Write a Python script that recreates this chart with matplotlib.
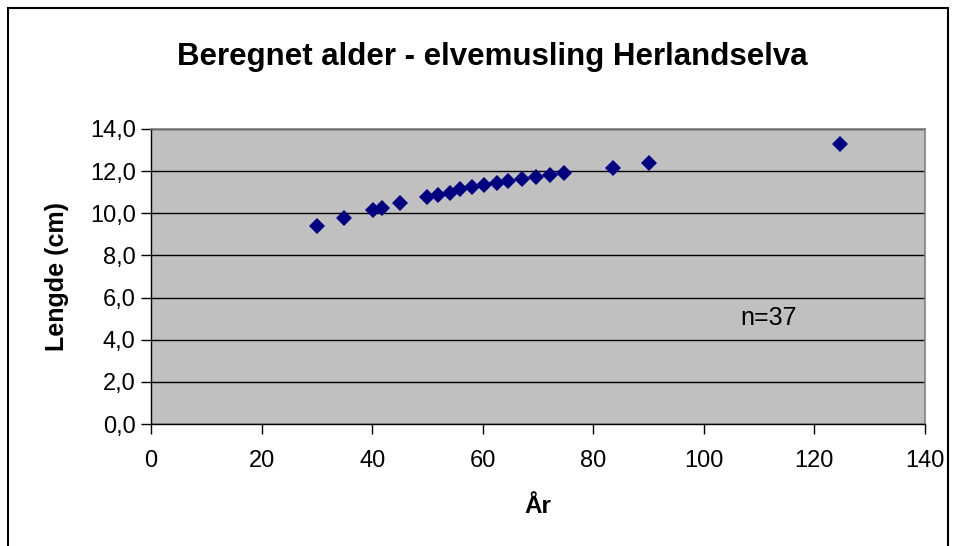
import matplotlib
matplotlib.use("Agg")
import matplotlib.pyplot as plt
from matplotlib.patches import Rectangle

plt.rcParams['font.family'] = ['Liberation Sans', 'DejaVu Sans']

# Data
age = [30.1, 34.9, 40.1, 41.7, 45.0, 50.0, 51.9, 54.1, 55.9, 58.1,
       60.2, 62.5, 64.6, 67.1, 69.6, 72.1, 74.7, 83.5, 90.0, 124.6]
length = [9.40, 9.79, 10.16, 10.27, 10.48, 10.75, 10.86, 10.96, 11.15, 11.24,
          11.34, 11.43, 11.51, 11.62, 11.72, 11.83, 11.91, 12.16, 12.38, 13.31]
x_ticks = [0, 20, 40, 60, 80, 100, 120, 140]
y_ticks = [0, 2, 4, 6, 8, 10, 12, 14]
y_tick_labels = ["0,0", "2,0", "4,0", "6,0", "8,0", "10,0", "12,0", "14,0"]
title = "Beregnet alder - elvemusling Herlandselva"
x_label = "År"
y_label = "Lengde (cm)"
note = "n=37"

W, H = 955, 546
fig = plt.figure(figsize=(W / 100, H / 100), dpi=100)
fig.patch.set_facecolor('white')

# outer chart border
fig.patches.append(Rectangle((8 / W, -0.05), (948 - 8) / W, 1.05 - 8 / H,
                             transform=fig.transFigure, fill=False,
                             edgecolor='black', linewidth=1.5))

ax = fig.add_axes([151 / W, 1 - 424 / H, (925 - 151) / W, (424 - 129) / H])
ax.set_facecolor('#C0C0C0')
ax.set_xlim(0, 140)
ax.set_ylim(0, 14)
ax.set_xticks(x_ticks)
ax.set_yticks(y_ticks)
ax.set_yticklabels(y_tick_labels)
ax.grid(axis='y', color='black', linewidth=1.0)
ax.set_axisbelow(True)

for s in ['top', 'right']:
    ax.spines[s].set_color('#808080')
    ax.spines[s].set_linewidth(1.2)
for s in ['left', 'bottom']:
    ax.spines[s].set_color('black')
    ax.spines[s].set_linewidth(1.0)

ax.tick_params(axis='both', direction='out', length=7, width=1,
               labelsize=17, colors='black')
ax.tick_params(axis='x', pad=12)
ax.tick_params(axis='y', pad=4)

ax.plot(age, length, linestyle='none', marker='D', markersize=8,
        color='#000080', markeredgewidth=0, clip_on=False)

ax.text(106.6, 5.05, note, fontsize=18, color='black', va='center', ha='left')

fig.text(492 / W, 1 - 57 / H, title, fontsize=22.5, fontweight='bold',
         ha='center', va='center')
ax.set_xlabel(x_label, fontsize=17.5, fontweight='bold', labelpad=16)
ax.set_ylabel(y_label, fontsize=18, fontweight='bold', labelpad=15)

fig.savefig('out.png', dpi=100)
